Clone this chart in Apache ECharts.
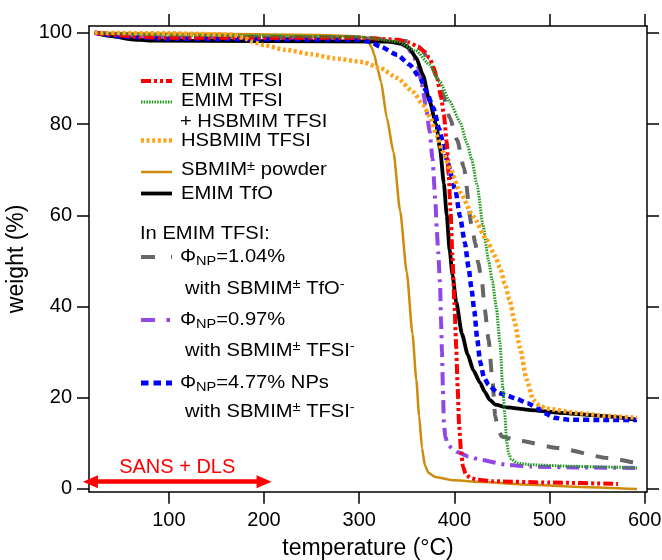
<!DOCTYPE html>
<html><head><meta charset="utf-8">
<script src="https://cdn.jsdelivr.net/npm/echarts@6/dist/echarts.min.js"></script>
<style>html,body{margin:0;padding:0;background:#fff}#c{width:662px;height:560px}</style>
</head><body><div id="c"></div>
<script>
// ---- data (temperature °C, weight %) ----
const xTicks = [100, 200, 300, 400, 500, 600];
const yTicks = [0, 20, 40, 60, 80, 100];

const emimTfsi = [[22,100],[40,99.6],[70,99.1],[100,98.9],[300,98.9],[340,98.5],[352,97.9],[362,97],[368,96],[374,94.5],[378,92.5],[382,90],[386,86],[389,82],[392,76],[394,69],[396,61],[398,51],[400,41],[402,31],[403.5,22],[405,14],[407,8.5],[409,5],[412,3.2],[417,2.4],[425,2],[440,1.7],[500,1.4],[572,1.1]];
const emimTfsiHsb = [[22,100],[100,99.5],[200,99.3],[300,99.1],[340,98.1],[360,96],[374,93],[385,89.2],[395,85],[406,80.5],[413,76],[418,72.5],[424,66.5],[430,58],[436,50],[440,45.5],[444,40],[448,32],[451,22],[453,16.5],[455,10.5],[457,7.8],[460,6.5],[466,5.7],[480,5.3],[520,5.0],[560,4.8],[592,4.6]];
const hsbmimTfsi = [[22,100],[100,99.9],[166,99.6],[180,98.8],[187,98.1],[200,97.3],[222,96.3],[250,95.3],[274,94.4],[304,93.6],[322,92.3],[340,90.1],[357,87],[367,84.2],[375,81.4],[381,77.6],[388,73.9],[396,70],[406,65],[420,59.7],[434,54.6],[443,51],[448,48.5],[453,45],[458,41.5],[463,37],[469,31],[476,24],[483,19.5],[490,18.2],[497,17.6],[532,16.6],[560,16],[592,15.6]];
const sbmimPowder = [[22,100],[150,99.8],[260,99.5],[300,99.2],[306,98.9],[310,98.1],[313,96.8],[316,95.2],[319,92.3],[323,89.2],[329,81.4],[336,73.9],[343,61],[350,47.5],[356,34],[360,24],[363,16],[366,9],[369,5.2],[373,3.5],[380,2.6],[400,1.9],[430,1.5],[480,0.9],[540,0.4],[592,0.0]];
const emimTfo = [[22,100],[40,99.3],[60,98.6],[80,98.3],[200,98.2],[330,98.1],[345,97.6],[352,96.8],[360,94.5],[367,90.8],[374,85],[381,79.8],[385,74.5],[389,67],[392,60],[395,52.5],[398,47],[402,41],[408,34],[414,29.5],[420,26],[427,23.3],[432,21.3],[437,19.6],[443,18.5],[455,17.9],[480,17.3],[510,16.7],[550,16.1],[592,15.2]];
const np104TfO = [[22,100],[100,99.2],[300,99],[350,98.2],[365,96.5],[375,93.5],[382,90],[388,86.4],[395,81.5],[403,76.5],[410,70.5],[418,58],[422,54],[425,49.6],[429,45.5],[432,39.3],[436,32.7],[440,23.9],[443,16],[446,13],[450,11.5],[455,11.2],[470,10.5],[508,9],[561,6.8],[592,5.6]];
const np097Tfsi = [[22,100],[100,99],[300,98.8],[340,98],[350,97],[357,95],[362,92.5],[366,88.5],[370,84],[374,78.5],[377,72.5],[380,63.5],[381.5,57],[383,52],[385,45],[386,37],[387,30],[388,22],[389,14.5],[390.5,11.5],[393,9.8],[398,8.8],[403,8.1],[415,7.1],[427,6.4],[455,5.3],[480,4.9],[530,4.7],[590,4.6]];
const np477Tfsi = [[22,100],[50,99.2],[100,98.7],[200,98.6],[300,98.5],[312,98],[322,97],[340,95.2],[353,93],[364,90.1],[371,87],[378,83.5],[384,79],[388,76],[393,71.5],[401,65.6],[406,59.7],[411,54],[415,48.5],[418,44],[421,39],[424,33],[427,28],[431,24.5],[436,22.8],[445,21.2],[455,20.5],[465,19.8],[477,18.8],[487,17.8],[495,16.6],[505,15.6],[520,15.2],[560,15.1],[592,15.1]];

const sansRange = [17.5, 200];
const sansY = 1.6;

// ---- styles ----
const F = '"Liberation Sans", Arial, Helvetica, sans-serif';
const C = {red:'#ff0000', green:'#1f9a1f', orange:'#ffa31a', gold:'#cf8b0c', black:'#000000', gray:'#666666', purple:'#9146e6', blue:'#0000ff'};
const ST = {
  red:   {color:C.red, width:4, type:[10,3,3,3,3,3]},
  green: {color:C.green, width:3, type:[1.5,1.2]},
  orange:{color:C.orange, width:4.5, type:[3,2.6]},
  gold:  {color:C.gold, width:2.5, type:'solid'},
  black: {color:C.black, width:3.8, type:'solid'},
  gray:  {color:C.gray, width:4, type:[13,12]},
  purple:{color:C.purple, width:4, type:[13,6,3,6]},
  blue:  {color:C.blue, width:4.5, type:[6,4]}
};

function ser(name, data, st, z, extra) {
  return Object.assign({
    name, type:'line', data, showSymbol:false, symbol:'none', smooth:0.2, smoothMonotone:'x',
    z, lineStyle:{color:st.color, width:st.width, type:st.type, cap:'butt'}, silent:true, animation:false
  }, extra || {});
}

const series = [
  ser('SBMIM± powder', sbmimPowder, ST.gold, 2, {
    markLine:{silent:true, animation:false, symbol:['triangle','triangle'], symbolSize:[13,15],
      lineStyle:{color:C.red, width:4.5, type:'solid'},
      label:{show:true, position:'middle', formatter:'SANS + DLS', color:C.red, fontSize:20, fontFamily:F, distance:4},
      data:[[{coord:[sansRange[0], sansY]}, {coord:[sansRange[1], sansY]}]]}
  }),
  ser('ΦNP=1.04%', np104TfO, ST.gray, 3),
  ser('ΦNP=0.97%', np097Tfsi, ST.purple, 4),
  ser('EMIM TfO', emimTfo, ST.black, 5),
  ser('ΦNP=4.77%', np477Tfsi, ST.blue, 6),
  ser('EMIM TFSI', emimTfsi, ST.red, 7),
  ser('EMIM TFSI + HSBMIM TFSI', emimTfsiHsb, ST.green, 8),
  ser('HSBMIM TFSI', hsbmimTfsi, ST.orange, 9)
];

// ---- legend as graphic ----
const SX = 1.12;
const rich = {
  n:{fontSize:18, fontFamily:F, fill:'#000', color:'#000', lineHeight:22},
  b:{fontSize:13, fontFamily:F, fill:'#000', color:'#000', lineHeight:13, verticalAlign:'bottom'},
  p:{fontSize:13, fontFamily:F, fill:'#000', color:'#000', lineHeight:13, verticalAlign:'top'}
};
function T(x, y, text) {
  return {type:'text', x, y, scaleX:SX, scaleY:1, silent:true, z:100,
    style:{text, rich, align:'left', textAlign:'left', verticalAlign:'middle', textVerticalAlign:'middle', fontSize:18, fontFamily:F, fill:'#000'}};
}
function L(y, st, x0, x1) {
  return {type:'line', silent:true, z:100, shape:{x1:x0||141, y1:y, x2:x1||172, y2:y},
    style:{stroke:st.color, lineWidth:st.width, lineDash: st.type === 'solid' ? null : st.type}};
}
const graphic = [
  L(81, ST.red), T(181, 81, '{n|EMIM TFSI}'),
  L(102, ST.green), T(181, 101.5, '{n|EMIM TFSI}'),
  T(180, 122, '{n|+ HSBMIM TFSI}'),
  L(140.5, ST.orange), T(181, 141.5, '{n|HSBMIM TFSI}'),
  L(172, ST.gold), T(181, 170.5, '{n|SBMIM}{p|±}{n| powder}'),
  L(193.5, ST.black), T(181, 194, '{n|EMIM TfO}'),
  T(140, 234, '{n|In EMIM TFSI:}'),
  L(257, {color:C.gray, width:4, type:[14,16]}), T(180, 257, '{n|Φ}{b|NP}{n|=1.04%}'),
  T(185, 289, '{n|with SBMIM}{p|±}{n| TfO}{p|-}'),
  L(320, {color:C.purple, width:4, type:[14,11.5,3.5,20]}), T(180, 320, '{n|Φ}{b|NP}{n|=0.97%}'),
  T(185, 351, '{n|with SBMIM}{p|±}{n| TFSI}{p|-}'),
  L(383, {color:C.blue, width:5, type:[7.5,5]}), T(180, 383, '{n|Φ}{b|NP}{n|=4.77% NPs}'),
  T(185, 412, '{n|with SBMIM}{p|±}{n| TFSI}{p|-}')
];

// ---- axes ----
const axLine = {show:true, onZero:false, lineStyle:{color:'#000', width:1.5}};
function tick(vals){ return {show:true, inside:false, length:12, customValues:vals, lineStyle:{color:'#000', width:1.5}}; }
const lbl = {color:'#000', fontSize:20, fontFamily:F};

const option = {
  animation:false,
  backgroundColor:'#fff',
  grid:{left:89, right:15, top:26, bottom:68.3, containLabel:false, outerBoundsMode:'none'},
  xAxis:[
    {type:'value', min:16, max:602.5, position:'bottom', axisLine:axLine, axisTick:tick(xTicks),
     axisLabel:Object.assign({customValues:xTicks, margin:19}, lbl), splitLine:{show:false},
     name:'temperature (°C)', nameLocation:'middle', nameGap:45, nameTextStyle:{color:'#000', fontSize:23, fontFamily:F}},
    {type:'value', min:16, max:602.5, position:'top', axisLine:axLine, axisTick:tick(xTicks),
     axisLabel:{show:false}, splitLine:{show:false}}
  ],
  yAxis:[
    {type:'value', min:-0.6, max:101.5, position:'left', axisLine:axLine, axisTick:tick(yTicks),
     axisLabel:Object.assign({customValues:yTicks, margin:17}, lbl), splitLine:{show:false},
     name:'weight (%)', nameLocation:'middle', nameGap:48, nameTextStyle:{color:'#000', fontSize:23, fontFamily:F}},
    {type:'value', min:-0.6, max:101.5, position:'right', axisLine:axLine, axisTick:tick(yTicks),
     axisLabel:{show:false}, splitLine:{show:false}}
  ],
  series,
  graphic
};
const chart = echarts.init(document.getElementById('c'), null, {renderer:'canvas'});
chart.setOption(option);
</script>
</body></html>
